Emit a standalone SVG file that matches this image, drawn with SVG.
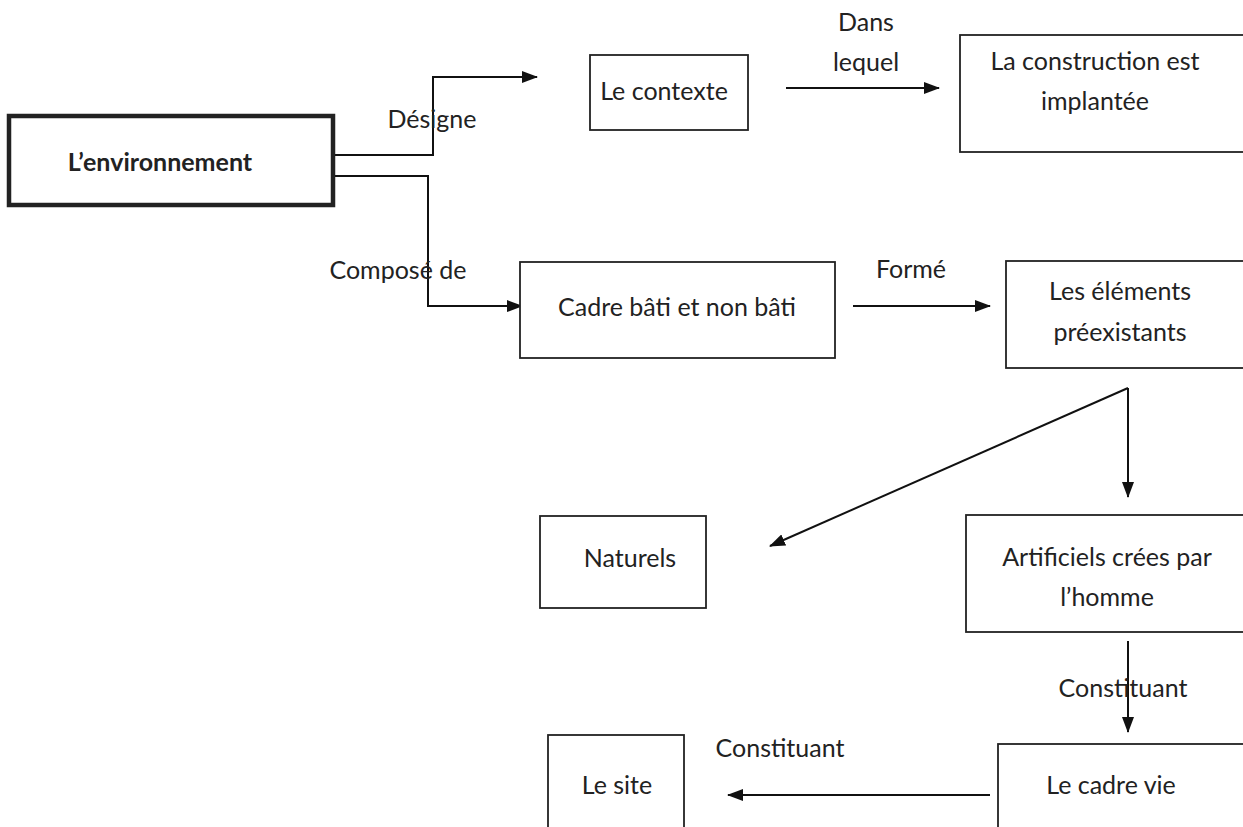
<svg xmlns="http://www.w3.org/2000/svg" width="1243" height="827" viewBox="0 0 1243 827">
<defs>
<marker id="ah" viewBox="0 0 16 12" refX="15" refY="6" markerWidth="16" markerHeight="12" markerUnits="userSpaceOnUse" orient="auto">
<path d="M0,0 L16,6 L0,12 z" fill="#111"/>
</marker>
<style>
.box{fill:#fff;stroke:#222;stroke-width:1.8}
.bold{fill:#fff;stroke:#222;stroke-width:4.5}
.t{font-family:Lato,"Open Sans","Liberation Sans",sans-serif;font-size:25px;fill:#222;text-anchor:middle}
.tb{font-family:Lato,"Open Sans","Liberation Sans",sans-serif;font-size:25px;font-weight:bold;fill:#222;text-anchor:middle}
.c{fill:none;stroke:#111;stroke-width:2}
</style>
</defs>
<rect width="1243" height="827" fill="#fff"/>
<g id="connectors">
<polyline class="c" points="333,155 433,155 433,77 537,77" marker-end="url(#ah)"/>
<polyline class="c" points="333,176 428,176 428,306 522,306" marker-end="url(#ah)"/>
<line class="c" x1="786" y1="88" x2="939" y2="88" marker-end="url(#ah)"/>
<line class="c" x1="853" y1="306" x2="990" y2="306" marker-end="url(#ah)"/>
<line class="c" x1="1128" y1="388" x2="1128" y2="497" marker-end="url(#ah)"/>
<line class="c" x1="1128" y1="388" x2="770" y2="546" marker-end="url(#ah)"/>
<line class="c" x1="1128" y1="641" x2="1128" y2="732" marker-end="url(#ah)"/>
<line class="c" x1="990" y1="795" x2="728" y2="795" marker-end="url(#ah)"/>
<text class="t" x="432" y="128">Désigne</text>
<text class="t" x="398" y="279">Composé de</text>
<text class="t" x="866" y="31">Dans</text>
<text class="t" x="866" y="71">lequel</text>
<text class="t" x="911" y="278">Formé</text>
<text class="t" x="1123" y="697">Constituant</text>
<text class="t" x="780" y="757">Constituant</text>
</g>
<g id="environnement">
<rect class="bold" x="9" y="116" width="324" height="89"/>
<text class="tb" x="160" y="171">L’environnement</text>
</g>
<g id="contexte">
<rect class="box" x="590" y="55" width="158" height="75"/>
<text class="t" x="664" y="100">Le contexte</text>
</g>
<g id="construction">
<rect class="box" x="960" y="35" width="290" height="117"/>
<text class="t" x="1095" y="70">La construction est</text>
<text class="t" x="1095" y="110">implantée</text>
</g>
<g id="cadre">
<rect class="box" x="520" y="262" width="315" height="96"/>
<text class="t" x="677" y="316">Cadre bâti et non bâti</text>
</g>
<g id="elements">
<rect class="box" x="1006" y="261" width="245" height="107"/>
<text class="t" x="1120" y="300">Les éléments</text>
<text class="t" x="1120" y="341">préexistants</text>
</g>
<g id="naturels">
<rect class="box" x="540" y="516" width="166" height="92"/>
<text class="t" x="630" y="567">Naturels</text>
</g>
<g id="artificiels">
<rect class="box" x="966" y="515" width="285" height="117"/>
<text class="t" x="1107" y="566">Artificiels crées par</text>
<text class="t" x="1107" y="606">l’homme</text>
</g>
<g id="cadrevie">
<rect class="box" x="998" y="744" width="253" height="100"/>
<text class="t" x="1111" y="794">Le cadre vie</text>
</g>
<g id="site">
<rect class="box" x="548" y="735" width="136" height="100"/>
<text class="t" x="617" y="794">Le site</text>
</g>
</svg>
